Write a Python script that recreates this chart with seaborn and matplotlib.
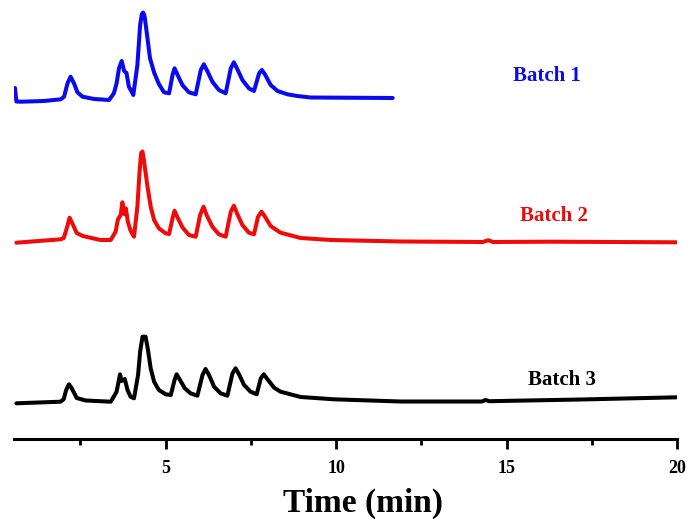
import numpy as np
import pandas as pd
import matplotlib
matplotlib.use("Agg")
import matplotlib.pyplot as plt
import seaborn as sns

# Chromatogram traces: retention time (min) and detector signal (a.u.)
batch1_time = [0.58, 0.62, 0.75, 1.43, 1.92, 2.02, 2.12, 2.21, 2.31, 2.41, 2.56, 2.90,
               3.34, 3.48, 3.56, 3.63, 3.71, 3.78, 3.85, 3.92, 3.99, 4.05, 4.17, 4.25,
               4.30, 4.34, 4.38, 4.46, 4.54, 4.66, 4.80, 4.95, 5.10, 5.20, 5.26, 5.36, 5.49,
               5.68, 5.88, 6.03, 6.12, 6.22, 6.37, 6.56, 6.76, 6.91, 7.00, 7.10, 7.25,
               7.44, 7.59, 7.74, 7.82, 7.91, 8.08, 8.28, 8.57, 8.86, 9.25, 11.66]
batch1_signal = [14.0, 0.5, 0.3, 1.0, 2.7, 5.3, 18.7, 25.3, 18.7, 9.7, 5.3, 3.0,
                 2.0, 8.7, 18.7, 33.7, 41.0, 31.0, 29.0, 15.3, 11.0, 7.0, 37.0, 77.0,
                 88.0, 89.5, 86.0, 65.3, 43.7, 29.5, 18.0, 9.7, 8.7, 27.0, 33.7, 26.3, 17.0,
                 9.7, 7.7, 32.0, 37.7, 31.0, 20.3, 12.0, 8.7, 33.7, 39.7, 33.0, 22.0,
                 13.7, 11.0, 28.7, 32.0, 27.7, 17.0, 11.0, 7.7, 6.0, 4.5, 4.0]

batch2_time = [0.62, 1.92, 2.01, 2.10, 2.18, 2.27, 2.39, 2.57, 2.95, 3.09, 3.39, 3.53,
               3.60, 3.68, 3.73, 3.78, 3.83, 3.89, 3.97, 4.07, 4.17, 4.23, 4.28, 4.32,
               4.36, 4.46, 4.56, 4.66, 4.80, 5.00, 5.10, 5.20, 5.26, 5.36, 5.49, 5.68,
               5.88, 6.01, 6.11, 6.20, 6.37, 6.56, 6.76, 6.91, 7.00, 7.10, 7.25, 7.44,
               7.59, 7.71, 7.81, 7.90, 8.08, 8.28, 8.37, 8.96, 9.84, 11.89, 14.30,
               14.47, 14.60, 16.29, 20.00]
batch2_signal = [1.3, 4.7, 6.0, 16.0, 26.3, 20.0, 11.0, 8.0, 5.0, 4.0, 4.0, 12.3,
                 24.7, 29.0, 41.7, 30.0, 35.7, 22.3, 13.3, 7.3, 37.3, 70.7, 91.0, 92.5,
                 84.0, 59.0, 37.3, 24.0, 15.7, 10.7, 10.0, 25.7, 33.3, 25.7, 16.7, 9.0,
                 7.3, 29.0, 37.3, 29.0, 17.3, 9.7, 7.3, 32.3, 38.3, 30.0, 19.0, 11.3,
                 9.7, 27.3, 32.3, 28.0, 18.0, 13.3, 11.3, 6.0, 4.0, 2.5, 2.0,
                 3.8, 2.0, 2.3, 1.7]

batch3_time = [0.62, 1.92, 2.01, 2.08, 2.16, 2.24, 2.39, 2.65, 3.39, 3.56, 3.66, 3.71,
               3.80, 3.88, 3.97, 4.07, 4.19, 4.25, 4.32, 4.41, 4.48, 4.56, 4.66, 4.80,
               5.00, 5.15, 5.26, 5.32, 5.42, 5.56, 5.73, 5.93, 6.08, 6.17, 6.27, 6.42,
               6.61, 6.81, 6.96, 7.05, 7.15, 7.30, 7.49, 7.67, 7.79, 7.88, 7.98, 8.18,
               8.37, 8.96, 9.93, 11.89, 14.28, 14.38, 14.50, 17.17, 20.00]
batch3_signal = [0.7, 2.3, 5.0, 14.0, 19.7, 16.0, 6.0, 3.5, 2.3, 12.3, 29.7, 23.0,
                 25.0, 14.0, 7.3, 5.7, 29.0, 52.3, 67.3, 67.3, 54.0, 35.7, 22.3, 14.0,
                 9.7, 9.0, 24.0, 29.7, 24.0, 15.7, 10.7, 8.3, 29.0, 35.0, 29.0, 17.3,
                 10.7, 8.3, 30.7, 35.7, 29.7, 19.0, 12.3, 9.7, 25.7, 29.7, 25.0, 16.3,
                 12.3, 7.0, 4.7, 2.5, 2.5, 4.0, 2.8, 4.5, 6.7]

batch_names = ["Batch 1", "Batch 2", "Batch 3"]
batch_colors = ["#0a0af0", "#f00a0a", "#000000"]
stack_offset = [337, 195, 35]          # vertical offsets of the stacked traces
label_pos = [(16.17, 363), (16.38, 223), (16.64, 59)]

frames = []
for name, t, s, off in zip(batch_names,
                           [batch1_time, batch2_time, batch3_time],
                           [batch1_signal, batch2_signal, batch3_signal],
                           stack_offset):
    frames.append(pd.DataFrame({"time": t,
                                "signal": np.asarray(s) + off,
                                "batch": name}))
df = pd.concat(frames, ignore_index=True)

sns.set_theme(style="white")
serif = ["Liberation Serif", "DejaVu Serif"]
plt.rcParams["font.family"] = serif
plt.rcParams["text.color"] = "black"
plt.rcParams["axes.labelcolor"] = "black"
plt.rcParams["xtick.color"] = "black"

fig = plt.figure(figsize=(6.91, 5.22), dpi=100)
ax = fig.add_axes([14 / 691, 83 / 522, 663 / 691, 439 / 522])

sns.lineplot(data=df, x="time", y="signal", hue="batch",
             palette=dict(zip(batch_names, batch_colors)),
             estimator=None, sort=False, legend=False, linewidth=2.9,
             solid_joinstyle="round", solid_capstyle="round", ax=ax)

for name, col, (tx, ty) in zip(batch_names, batch_colors, label_pos):
    ax.text(tx, ty, name, color=col, fontsize=15, fontweight="bold",
            ha="center", va="center", family=serif)

ax.set_xlim(0.55, 20)
ax.set_ylim(0, 439)
ax.set_yticks([])
ax.set_ylabel("")
for side in ["left", "right", "top"]:
    ax.spines[side].set_visible(False)
ax.spines["bottom"].set_linewidth(2.2)
ax.spines["bottom"].set_color("black")

ax.set_xticks([5, 10, 15, 20])
ax.set_xticks([2.5, 7.5, 12.5, 17.5], minor=True)
ax.tick_params(axis="x", which="major", direction="out", length=7, width=2,
               color="black", labelcolor="black", bottom=True, pad=8)
ax.tick_params(axis="x", which="minor", direction="out", length=4.5, width=2,
               color="black", bottom=True)
for lbl in ax.get_xticklabels():
    lbl.set_fontsize(13)
    lbl.set_fontweight("bold")
    lbl.set_family(serif)

ax.set_xlabel("Time (min)", fontsize=24, fontweight="bold", family=serif,
              color="black", x=0.526, labelpad=8)

fig.savefig("out.png", dpi=100, facecolor="white")
